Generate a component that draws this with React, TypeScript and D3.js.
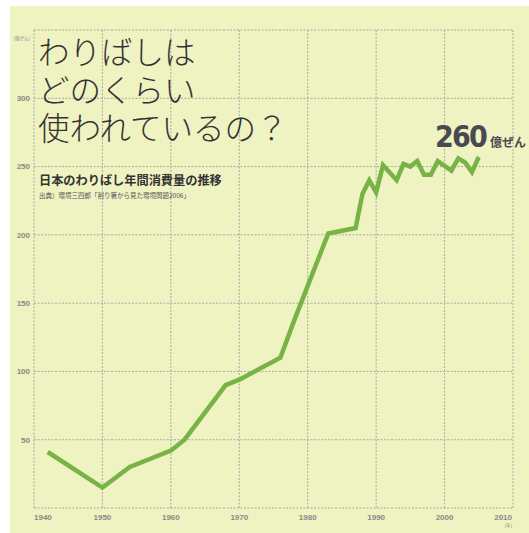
import { scaleLinear, line } from "d3";

const years = [1942, 1950, 1954, 1960, 1962, 1968, 1970, 1976, 1978, 1983, 1987, 1988, 1989, 1990, 1991, 1993, 1994, 1995, 1996, 1997, 1998, 1999, 2001, 2002, 2003, 2004, 2005];
const consumption = [41, 15, 30, 42, 50, 90, 94, 110, 137, 201, 205, 230, 240, 231, 251, 240, 252, 250, 254, 244, 244, 254, 247, 256, 253, 246, 257];
const xTicks = [1940, 1950, 1960, 1970, 1980, 1990, 2000, 2010];
const yTicks = [50, 100, 150, 200, 250, 300];
const titleLines = ["わりばしは", "どのくらい", "使われているの？"];
const subtitle = "日本のわりばし年間消費量の推移";
const source = "出典）環境三四郎「割り箸から見た環境問題2006」";
const callout = "260";
const calloutUnit = "億ぜん";
const yUnit = "[億ぜん]";
const xUnit = "[年]";

const W = 529;
const H = 533;
const left = 34, right = 513, top = 30, bottom = 508;

export default function App() {
  const x = scaleLinear().domain([1940, 2010]).range([left, right]);
  const y = scaleLinear().domain([0, 350]).range([bottom, top]);
  const pts = years.map((yr, i) => [yr, consumption[i]] as [number, number]);
  const path = line<[number, number]>()
    .x((d) => x(d[0]))
    .y((d) => y(d[1]))(pts);

  const grid = "#a9a9a2";
  const labelFont = "'Liberation Sans Narrow', 'Liberation Sans', sans-serif";
  const jp = "'Noto Sans CJK JP', sans-serif";

  return (
    <svg width={W} height={H} style={{ position: "absolute", left: 0, top: 0 }}>
      <rect x={0} y={0} width={W} height={H} fill="#ffffff" />
      <rect x={10} y={6} width={W - 10} height={H - 6} fill="#eff2c1" />

      {/* grid */}
      {[0, ...yTicks, 350].map((v) => (
        <line key={"h" + v} x1={left} x2={x(2010)} y1={y(v)} y2={y(v)} stroke={grid} strokeWidth={1} strokeDasharray="2,1.5" />
      ))}
      {xTicks.map((v) => (
        <line key={"v" + v} x1={x(v)} x2={x(v)} y1={top} y2={bottom} stroke={grid} strokeWidth={1} strokeDasharray="2,1.5" />
      ))}

      {/* y labels */}
      {yTicks.map((v) => (
        <text key={"yl" + v} x={30} y={y(v)} dy="0.35em" textAnchor="end" fontFamily={labelFont} fontWeight="bold" fontSize={8} fill="#8a8a85">
          {v}
        </text>
      ))}
      <text x={30} y={40} textAnchor="end" fontFamily={jp} fontSize={4.5} fill="#8a8a85">{yUnit}</text>

      {/* x labels */}
      {xTicks.map((v, i) => (
        <text key={"xl" + v} x={i === xTicks.length - 1 ? x(v) - 1 : x(v)} y={520}
          textAnchor={i === 0 ? "start" : i === xTicks.length - 1 ? "end" : "middle"}
          fontFamily={labelFont} fontWeight="bold" fontSize={8} fill="#8a8a85">
          {v}
        </text>
      ))}
      <text x={x(2010) - 1} y={527} textAnchor="end" fontFamily={jp} fontSize={4.5} fill="#8a8a85">{xUnit}</text>

      {/* title */}
      {titleLines.map((t, i) => (
        <text key={"t" + i} x={38} y={64 + i * 38} fontFamily={jp} fontWeight={300} fontSize={31.5} fill="#333333">
          {t}
        </text>
      ))}
      <text x={39} y={185} fontFamily={jp} fontWeight="bold" fontSize={12.2} fill="#333333">{subtitle}</text>
      <text x={39} y={198} fontFamily={jp} fontSize={6.5} fill="#555555">{source}</text>

      {/* series */}
      <path d={path ?? ""} fill="none" stroke="#77b345" strokeWidth={4.5} strokeLinejoin="miter" strokeLinecap="butt" />

      {/* callout */}
      <text x={435} y={147} fontFamily="'DejaVu Sans Condensed', 'DejaVu Sans', sans-serif" fontStretch="condensed" fontWeight="bold" fontSize={30} letterSpacing={-1.8} fill="#4a4952">{callout}</text>
      <text x={490} y={147} fontFamily={jp} fontWeight="bold" fontSize={12} fill="#4a4952">{calloutUnit}</text>
    </svg>
  );
}
